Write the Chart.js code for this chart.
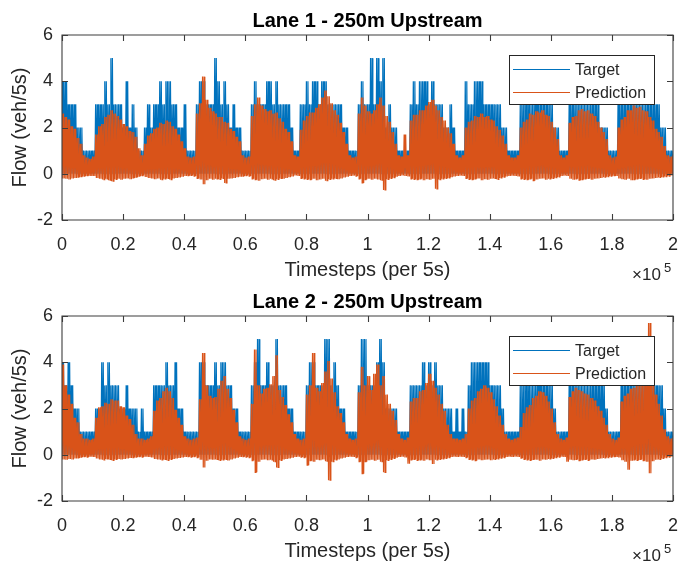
<!DOCTYPE html>
<html>
<head>
<meta charset="utf-8">
<script src="https://cdn.jsdelivr.net/npm/chart.js@4.4.1/dist/chart.umd.min.js"></script>
<style>
  html, body { margin: 0; padding: 0; background: #ffffff; }
  #wrap { position: relative; width: 680px; height: 563px; }
  canvas { position: absolute; left: 0; }
</style>
</head>
<body>
<div id="wrap">
  <canvas id="lane1" width="680" height="282" style="top:0px"></canvas>
  <canvas id="lane2" width="680" height="282" style="top:281px"></canvas>
</div>
<script>
// Flow series, one value per column of 1000 timesteps (0 ... 200000).
// Target: highest vehicle count seen in the column (lowest is always 0).
// Prediction: highest and lowest predicted flow in the column.
const COLUMN_STEP = 1000;
const TARGET_MIN = 0;

const lane1Target = [
  4,4,3,3,3,2,2,1,1,1, 1,3,3,3,4,3,5,3,3,3, 2,4,2,3,2,1,1,2,3,2, 3,3,4,3,4,4,3,3,2,2,
  3,1,1,1,3,4,4,3,3,3, 5,4,3,4,3,2,3,2,2,1, 1,1,3,4,3,3,3,4,4,3, 4,3,3,3,3,2,1,1,3,3,
  4,3,4,4,3,4,4,3,3,3, 3,3,2,2,1,1,1,3,4,3, 3,5,3,5,4,5,2,3,2,2, 1,1,1,1,3,4,3,4,4,4,
  3,4,3,3,3,2,2,3,2,1, 1,1,4,3,3,4,4,4,3,3, 3,3,3,3,2,2,1,1,1,1, 3,3,4,3,3,4,3,3,3,3,
  3,2,2,1,1,1,3,3,3,3, 3,3,3,3,3,3,2,2,2,1, 1,1,3,3,3,3,3,3,3,3, 3,3,3,3,3,3,2,2,1,1,
  1
];
const lane1PredHigh = [
  2.6,2.45,2.35,2.05,1.95,1.55,1.3,0.8,0.7,0.65, 0.75,1.7,2.05,2.15,2.45,2.55,2.75,2.6,2.5,2.35,
  2.15,2.05,1.85,1.8,1.6,1.1,0.8,1.3,1.65,1.75, 1.95,2.0,2.2,2.15,2.3,2.25,2.05,1.95,1.7,1.4,
  1.1,0.75,0.7,0.75,2.6,3.05,4.2,3.2,2.85,2.7, 2.6,2.45,2.45,2.25,2.2,1.95,1.85,1.6,1.4,0.8,
  0.7,0.75,2.5,3.0,3.3,2.95,2.8,2.7,2.75,2.6, 2.65,2.4,2.25,1.95,1.8,1.4,0.8,0.75,1.9,2.3,
  2.5,2.65,2.65,2.85,3.0,3.3,3.6,3.35,3.05,2.75, 2.55,2.2,1.8,1.3,0.8,0.7,0.75,2.6,3.3,2.95,
  2.7,2.6,2.75,3.0,3.3,2.95,2.5,2.25,1.8,1.3, 0.8,0.75,1.7,0.8,2.3,2.55,2.55,2.75,2.75,2.95,
  3.1,3.2,2.95,2.75,2.45,2.3,2.0,1.75,1.3,0.8, 0.7,0.8,2.0,2.25,2.3,2.5,2.45,2.6,2.45,2.5,
  2.35,2.3,2.05,1.9,1.65,1.3,0.8,0.7,0.7,0.8, 2.0,2.25,2.35,2.6,2.55,2.7,2.65,2.75,2.55,2.5,
  2.25,2.0,1.5,0.8,0.7,0.8,2.2,2.45,2.5,2.75, 2.8,2.7,2.75,2.6,2.5,2.25,2.0,1.8,1.5,0.8,
  0.7,0.75,2.0,2.35,2.45,2.75,2.75,2.95,2.85,2.9, 2.75,2.7,2.45,2.3,1.95,1.8,1.6,1.2,0.8,0.75,
  0.8
];
const lane1PredLow = [
  -0.2,-0.22,-0.25,-0.2,-0.18,-0.15,-0.12,-0.1,-0.08,-0.1, -0.1,-0.18,-0.22,-0.25,-0.22,-0.28,-0.32,-0.24,-0.22,-0.26,
  -0.22,-0.2,-0.24,-0.18,-0.15,-0.1,-0.08,-0.14,-0.18,-0.2, -0.24,-0.2,-0.26,-0.22,-0.2,-0.25,-0.2,-0.18,-0.16,-0.13,
  -0.1,-0.08,-0.07,-0.1,-0.2,-0.25,-0.45,-0.28,-0.22,-0.26, -0.22,-0.24,-0.2,-0.4,-0.22,-0.2,-0.18,-0.15,-0.13,-0.1,
  -0.08,-0.1,-0.22,-0.26,-0.3,-0.24,-0.22,-0.26,-0.22,-0.28, -0.24,-0.2,-0.22,-0.18,-0.15,-0.12,-0.08,-0.1,-0.2,-0.22,
  -0.24,-0.26,-0.22,-0.28,-0.25,-0.22,-0.3,-0.24,-0.22,-0.2, -0.24,-0.2,-0.16,-0.13,-0.1,-0.08,-0.1,-0.22,-0.4,-0.25,
  -0.22,-0.26,-0.22,-0.25,-0.28,-0.7,-0.24,-0.2,-0.17,-0.13, -0.1,-0.08,-0.1,-0.12,-0.22,-0.24,-0.26,-0.22,-0.28,-0.24,
  -0.26,-0.22,-0.65,-0.25,-0.22,-0.2,-0.18,-0.15,-0.12,-0.1, -0.08,-0.1,-0.2,-0.24,-0.26,-0.22,-0.2,-0.28,-0.24,-0.26,
  -0.22,-0.2,-0.24,-0.18,-0.15,-0.12,-0.1,-0.08,-0.1,-0.12, -0.22,-0.24,-0.26,-0.22,-0.3,-0.25,-0.22,-0.2,-0.26,-0.22,
  -0.2,-0.17,-0.14,-0.1,-0.08,-0.1,-0.22,-0.26,-0.22,-0.28, -0.25,-0.22,-0.2,-0.26,-0.22,-0.2,-0.18,-0.15,-0.13,-0.1,
  -0.08,-0.1,-0.2,-0.24,-0.26,-0.22,-0.28,-0.25,-0.22,-0.2, -0.24,-0.26,-0.22,-0.2,-0.18,-0.16,-0.14,-0.12,-0.1,-0.08,
  -0.1
];

const lane2Target = [
  4,3,4,3,2,2,1,1,1,1, 1,2,2,4,3,4,3,3,3,2, 2,3,2,2,2,1,2,1,1,1, 3,3,3,3,4,3,3,4,2,2,
  1,1,1,1,1,4,4,3,3,3, 4,3,4,4,3,3,2,2,1,1, 1,1,3,4,5,3,3,4,3,3, 5,3,3,3,2,2,1,1,1,1,
  3,4,4,3,3,3,5,5,3,4, 3,2,2,1,1,1,1,3,5,5, 3,3,3,4,5,4,2,2,2,2, 1,1,1,1,3,3,3,3,4,3,
  4,3,4,3,3,2,2,2,1,2, 1,2,1,3,4,4,4,4,4,4, 3,3,3,3,2,1,1,1,1,1, 3,3,4,3,3,3,4,3,3,3,
  3,2,1,1,1,1,3,3,3,3, 3,3,3,3,3,3,3,3,2,1, 1,1,1,3,3,3,3,3,3,3, 3,3,3,3,3,3,3,2,1,1,
  1
];
const lane2PredHigh = [
  3.9,3.0,2.6,2.2,1.6,1.4,0.9,0.7,0.7,0.65, 0.7,1.6,2.05,2.1,2.25,2.2,2.4,2.35,2.35,2.1,
  2.05,1.7,1.55,1.3,0.9,0.7,0.7,0.65,0.7,0.8, 1.9,2.35,2.45,2.75,2.9,2.75,2.45,1.95,1.6,1.3,
  0.8,0.7,0.65,0.7,0.75,2.4,4.4,3.0,2.55,2.45, 2.5,2.85,3.2,3.4,2.85,2.45,1.95,1.4,0.8,0.7,
  0.65,0.7,2.2,4.55,3.0,2.65,2.85,2.9,3.05,3.4, 4.3,2.8,2.5,2.15,1.75,1.4,0.9,0.7,0.65,0.7,
  2.6,3.0,4.4,2.9,2.75,3.1,3.6,4.05,3.3,2.7, 2.1,1.8,1.4,0.9,0.7,0.65,0.7,2.7,3.8,3.0,
  3.4,2.8,3.5,3.9,3.0,3.4,2.6,2.2,1.9,1.5, 0.9,0.7,0.65,0.75,2.3,2.45,2.45,2.75,2.8,3.1,
  3.5,3.2,2.9,2.6,2.2,1.9,1.3,0.9,0.7,0.7, 0.65,0.7,0.9,2.0,2.35,2.45,2.75,2.85,3.0,2.9,
  2.7,2.4,2.1,1.7,1.3,0.9,0.7,0.65,0.7,0.75, 1.2,1.8,2.05,2.15,2.45,2.55,2.75,2.7,2.55,2.3,
  2.0,1.4,0.9,0.7,0.65,0.75,2.5,2.75,2.9,2.8, 2.75,2.65,2.6,2.45,2.35,2.1,1.9,1.6,1.3,0.9,
  0.7,0.65,0.75,2.3,2.55,2.65,2.85,2.9,3.05,3.1, 3.3,3.6,5.7,3.0,2.6,2.2,1.7,1.1,0.8,0.7,
  0.75
];
const lane2PredLow = [
  -0.2,-0.22,-0.18,-0.2,-0.16,-0.14,-0.1,-0.08,-0.1,-0.08, -0.1,-0.16,-0.2,-0.22,-0.18,-0.2,-0.24,-0.2,-0.18,-0.2,
  -0.18,-0.16,-0.14,-0.12,-0.1,-0.08,-0.1,-0.08,-0.1,-0.12, -0.18,-0.2,-0.22,-0.2,-0.24,-0.2,-0.18,-0.16,-0.14,-0.12,
  -0.1,-0.08,-0.1,-0.08,-0.12,-0.22,-0.55,-0.26,-0.2,-0.22, -0.2,-0.24,-0.22,-0.2,-0.25,-0.2,-0.16,-0.13,-0.1,-0.08,
  -0.1,-0.12,-0.25,-0.76,-0.3,-0.22,-0.2,-0.24,-0.22,-0.3, -0.55,-0.24,-0.2,-0.18,-0.16,-0.13,-0.1,-0.08,-0.1,-0.12,
  -0.45,-0.26,-0.3,-0.22,-0.24,-0.2,-0.28,-1.1,-0.3,-0.22, -0.2,-0.16,-0.13,-0.1,-0.08,-0.1,-0.12,-0.3,-0.82,-0.3,
  -0.24,-0.22,-0.26,-0.22,-0.3,-0.76,-0.24,-0.2,-0.16,-0.13, -0.1,-0.08,-0.12,-0.39,-0.22,-0.2,-0.24,-0.22,-0.26,-0.2,
  -0.24,-0.4,-0.22,-0.2,-0.18,-0.16,-0.13,-0.1,-0.08,-0.1, -0.08,-0.1,-0.12,-0.2,-0.22,-0.26,-0.2,-0.24,-0.22,-0.2,
  -0.24,-0.2,-0.18,-0.15,-0.12,-0.1,-0.08,-0.1,-0.08,-0.1, -0.15,-0.2,-0.22,-0.24,-0.2,-0.22,-0.26,-0.2,-0.22,-0.18,
  -0.16,-0.13,-0.1,-0.08,-0.1,-0.3,-0.22,-0.24,-0.2,-0.26, -0.22,-0.2,-0.24,-0.2,-0.22,-0.18,-0.16,-0.14,-0.12,-0.1,
  -0.08,-0.1,-0.12,-0.24,-0.3,-0.65,-0.26,-0.22,-0.24,-0.2, -0.26,-0.3,-0.8,-0.28,-0.22,-0.2,-0.16,-0.13,-0.1,-0.08,
  -0.1
];

const xTickValues = [0, 20000, 40000, 60000, 80000, 100000, 120000, 140000, 160000, 180000, 200000];
const yTickValues = [-2, 0, 2, 4, 6];
const seriesNames = ['Target', 'Prediction'];

const FONT = "'Liberation Sans', Arial, Helvetica, sans-serif";
const INK = '#262626';
const BLUE = '#0072BD';
const ORANGE = '#D95319';

// A column holds many 5-second samples swinging between its high and low value;
// it is drawn as two up/down strokes so the dense series renders as a filled band.
function columnStrokes(high, low) {
  const pts = [];
  const q = COLUMN_STEP / 4;
  for (let i = 0; i < high.length; i++) {
    const x0 = i * COLUMN_STEP;
    const lo = Array.isArray(low) ? low[i] : low;
    pts.push({ x: x0, y: high[i] });
    if (i < high.length - 1) {
      pts.push({ x: x0 + q, y: lo });
      pts.push({ x: x0 + 2 * q, y: high[i] });
      pts.push({ x: x0 + 3 * q, y: lo });
    }
  }
  return pts;
}

// Box, inward tick marks, legend and text labels in the style of a MATLAB subplot.
const subplotDecor = {
  id: 'subplotDecor',
  afterDatasetsDraw(chart) {
    const { ctx, chartArea: a, scales: { x, y } } = chart;
    ctx.save();
    ctx.strokeStyle = '#3c3c3c';
    ctx.lineWidth = 1.1;
    ctx.beginPath();
    ctx.rect(a.left, a.top, a.right - a.left, a.bottom - a.top);
    ctx.stroke();
    const tl = 6;
    ctx.beginPath();
    x.ticks.forEach(t => {
      const px = Math.round(x.getPixelForValue(t.value)) + 0.5;
      ctx.moveTo(px, a.bottom); ctx.lineTo(px, a.bottom - tl);
      ctx.moveTo(px, a.top); ctx.lineTo(px, a.top + tl);
    });
    y.ticks.forEach(t => {
      const py = Math.round(y.getPixelForValue(t.value)) + 0.5;
      ctx.moveTo(a.left, py); ctx.lineTo(a.left + tl, py);
      ctx.moveTo(a.right, py); ctx.lineTo(a.right - tl, py);
    });
    ctx.stroke();

    // legend
    const lw = 145, lh = 49;
    const lx = a.right - 164, ly = a.top + 20;
    ctx.fillStyle = '#ffffff';
    ctx.fillRect(lx, ly, lw, lh);
    ctx.strokeStyle = INK;
    ctx.lineWidth = 1;
    ctx.strokeRect(lx + 0.5, ly + 0.5, lw, lh);
    const colors = [BLUE, ORANGE];
    ctx.font = '16px ' + FONT;
    ctx.textAlign = 'left';
    ctx.textBaseline = 'middle';
    seriesNames.forEach((name, k) => {
      const yy = ly + 14.5 + k * 23;
      ctx.strokeStyle = colors[k];
      ctx.lineWidth = 1.2;
      ctx.beginPath();
      ctx.moveTo(lx + 4, yy); ctx.lineTo(lx + 61, yy);
      ctx.stroke();
      ctx.fillStyle = INK;
      ctx.fillText(name, lx + 66, yy + 1);
    });
    ctx.restore();
  },
  afterDraw(chart) {
    const { ctx, chartArea: a } = chart;
    const o = chart.options.plugins.subplotDecor;
    const cx = (a.left + a.right) / 2;
    ctx.save();
    ctx.fillStyle = '#000000';
    ctx.textAlign = 'center';
    ctx.textBaseline = 'middle';
    ctx.font = 'bold 20px ' + FONT;
    ctx.fillText(o.title, cx, o.titleY);
    ctx.fillStyle = INK;
    ctx.font = '20px ' + FONT;
    ctx.fillText(o.xLabel, cx, o.xLabelY);
    ctx.save();
    ctx.translate(o.yLabelX, (a.top + a.bottom) / 2);
    ctx.rotate(-Math.PI / 2);
    ctx.fillText(o.yLabel, 0, 0);
    ctx.restore();
    // axis multiplier
    ctx.textAlign = 'left';
    ctx.textBaseline = 'alphabetic';
    ctx.font = '17px ' + FONT;
    ctx.fillText('\u00d710', a.right - 41, o.expBaseline);
    ctx.font = '13px ' + FONT;
    ctx.fillText(o.exponent, a.right - 9, o.expBaseline - 8);
    ctx.restore();
  }
};

function makePanel(canvasId, title, target, predHigh, predLow) {
  return new Chart(document.getElementById(canvasId), {
    type: 'line',
    data: {
      datasets: [
        {
          label: seriesNames[0],
          data: columnStrokes(target, TARGET_MIN),
          borderColor: BLUE,
          borderWidth: 1.2,
          pointRadius: 0,
          tension: 0,
          fill: false,
          order: 2
        },
        {
          label: seriesNames[1],
          data: columnStrokes(predHigh, predLow),
          borderColor: ORANGE,
          borderWidth: 1.2,
          pointRadius: 0,
          tension: 0,
          fill: false,
          order: 1
        }
      ]
    },
    options: {
      responsive: false,
      animation: false,
      events: [],
      layout: { padding: { left: 0, right: 7, top: 35, bottom: 0 } },
      scales: {
        x: {
          type: 'linear',
          min: 0,
          max: 200000,
          afterBuildTicks: s => { s.ticks = xTickValues.map(v => ({ value: v })); },
          afterFit: s => { s.height = 62; },
          grid: { display: false, drawTicks: false },
          border: { display: false },
          ticks: {
            autoSkip: false,
            maxRotation: 0,
            padding: 1,
            color: INK,
            font: { family: FONT, size: 18, lineHeight: 2.65 },
            callback: v => String(Math.round(v / 1e4) / 10)
          }
        },
        y: {
          type: 'linear',
          min: -2,
          max: 6,
          afterBuildTicks: s => { s.ticks = yTickValues.map(v => ({ value: v })); },
          afterFit: s => { s.width = 62; },
          grid: { display: false, drawTicks: false },
          border: { display: false },
          ticks: {
            padding: 9,
            color: INK,
            font: { family: FONT, size: 18 },
            callback: v => String(v)
          }
        }
      },
      plugins: {
        legend: { display: false },
        tooltip: { enabled: false },
        subplotDecor: {
          title: title,
          titleY: 21,
          xLabel: 'Timesteps (per 5s)',
          xLabelY: 270,
          yLabel: 'Flow (veh/5s)',
          yLabelX: 20,
          exponent: '5',
          expBaseline: 280
        }
      }
    },
    plugins: [subplotDecor]
  });
}

makePanel('lane1', 'Lane 1 - 250m Upstream', lane1Target, lane1PredHigh, lane1PredLow);
makePanel('lane2', 'Lane 2 - 250m Upstream', lane2Target, lane2PredHigh, lane2PredLow);
</script>
</body>
</html>
